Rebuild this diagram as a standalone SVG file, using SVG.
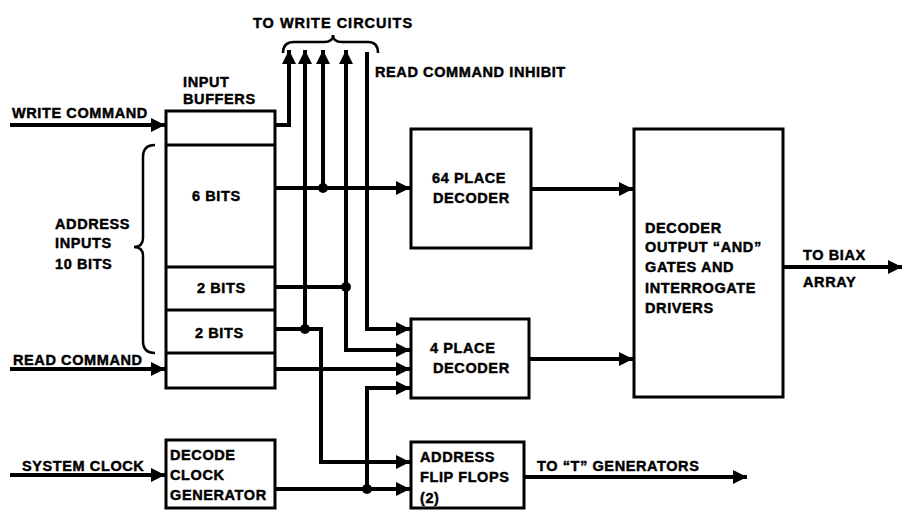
<svg xmlns="http://www.w3.org/2000/svg" width="903" height="510" viewBox="0 0 903 510">
<style>
.box{fill:none;stroke:#000;stroke-width:3}
.w{fill:none;stroke:#000;stroke-width:4;stroke-linejoin:miter}
.a{marker-end:url(#ah)}
.br{fill:none;stroke:#000;stroke-width:2.5}
text{font-family:"Liberation Sans",Arial,sans-serif;font-weight:bold;font-size:14.5px;letter-spacing:0.6px;fill:#000;stroke:#000;stroke-width:0.45px}
.dot{fill:#000}
</style>
<defs>
<marker id="ah" markerUnits="userSpaceOnUse" markerWidth="15" markerHeight="15" refX="14" refY="7" orient="auto">
<path d="M0,0 L14,7 L0,14 z" fill="#000"/>
</marker>
</defs>
<rect width="903" height="510" fill="#fff"/>

<g id="labels">
<text x="253" y="28" style="letter-spacing:1px">TO WRITE CIRCUITS</text>
<path class="br" d="M283,53 Q283,42 294,42 L324,42 Q333,42 333,35 Q333,42 342,42 L368,42 Q378,42 378,53"/>
<text x="375" y="77">READ COMMAND INHIBIT</text>
<text x="12" y="118">WRITE COMMAND</text>
<text x="13" y="365">READ COMMAND</text>
<text x="22" y="471">SYSTEM CLOCK</text>
<text x="55" y="229">ADDRESS</text>
<text x="55" y="248">INPUTS</text>
<text x="55" y="269">10 BITS</text>
<path class="br" d="M155,145 Q143,145 143,157 L143,238 Q143,247 134,247 Q143,247 143,256 L143,341 Q143,353 155,353"/>
<text x="803" y="260">TO BIAX</text>
<text x="803" y="287">ARRAY</text>
<text x="537" y="471">TO “T” GENERATORS</text>
</g>

<g id="input-buffers">
<text x="183" y="87">INPUT</text>
<text x="183" y="104">BUFFERS</text>
<rect class="box" x="166" y="111" width="109" height="277"/>
<line class="box" x1="166" y1="145" x2="275" y2="145"/>
<line class="box" x1="166" y1="267" x2="275" y2="267"/>
<line class="box" x1="166" y1="310" x2="275" y2="310"/>
<line class="box" x1="166" y1="353" x2="275" y2="353"/>
<text x="192" y="201">6 BITS</text>
<text x="197" y="293">2 BITS</text>
<text x="195" y="338">2 BITS</text>
</g>

<g id="decode-clock-generator">
<rect class="box" x="166" y="440" width="109" height="68"/>
<text x="170" y="460">DECODE</text>
<text x="170" y="480">CLOCK</text>
<text x="170" y="500">GENERATOR</text>
</g>

<g id="decoder-64">
<rect class="box" x="411" y="129" width="120" height="119"/>
<text x="432" y="183">64 PLACE</text>
<text x="433" y="203">DECODER</text>
</g>

<g id="decoder-4">
<rect class="box" x="411" y="319" width="118" height="79"/>
<text x="430" y="353">4 PLACE</text>
<text x="433" y="373">DECODER</text>
</g>

<g id="address-flip-flops">
<rect class="box" x="411" y="442" width="113" height="66"/>
<text x="420" y="462">ADDRESS</text>
<text x="420" y="482">FLIP FLOPS</text>
<text x="420" y="503">(2)</text>
</g>

<g id="and-gates">
<rect class="box" x="634" y="129" width="149" height="268"/>
<text x="645" y="233">DECODER</text>
<text x="645" y="252">OUTPUT “AND”</text>
<text x="645" y="272">GATES AND</text>
<text x="645" y="293">INTERROGATE</text>
<text x="645" y="313">DRIVERS</text>
</g>

<g id="connectors">
<path class="w a" d="M10,125 H165"/>
<path class="w a" d="M10,369 H165"/>
<path class="w a" d="M10,475 H165"/>
<path class="w a" d="M275,125 H289 V50"/>
<path class="w a" d="M305,329 V50"/>
<path class="w a" d="M275,188 H410"/>
<path class="w a" d="M323,188 V50"/>
<path class="w a" d="M275,287 H346 V50"/>
<path class="w a" d="M346,287 V350 H410"/>
<path class="w a" d="M367,52 V329 H410"/>
<path class="w a" d="M275,329 H321 V462 H410"/>
<path class="w a" d="M275,369 H410"/>
<path class="w a" d="M275,489 H410"/>
<path class="w a" d="M367,489 V388 H410"/>
<path class="w a" d="M531,189 H633"/>
<path class="w a" d="M529,359 H633"/>
<path class="w a" d="M783,267 H902"/>
<path class="w a" d="M524,477 H747"/>
<circle class="dot" cx="323" cy="188" r="5"/>
<circle class="dot" cx="346" cy="287" r="5"/>
<circle class="dot" cx="305" cy="329" r="5"/>
<circle class="dot" cx="367" cy="489" r="5"/>
</g>
</svg>
